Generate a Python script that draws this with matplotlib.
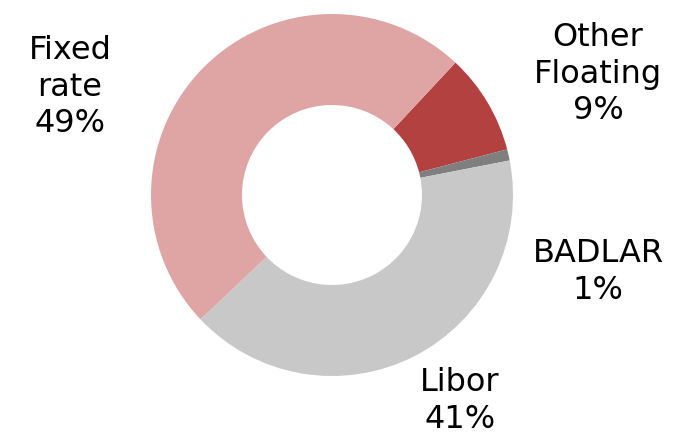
import matplotlib.pyplot as plt

# data
labels = ['Other\nFloating', 'BADLAR', 'Libor', 'Fixed\nrate']
shares = [9, 1, 41, 49]
colors = ['#B3413F', '#7F7F7F', '#C8C8C8', '#DFA5A4']

# label anchor points in pixels (x, y from top)
label_pos = [(598, 74), (598, 272), (460, 401), (70, 87)]

W, H = 684, 436
fig = plt.figure(figsize=(W / 100, H / 100), dpi=100)
ax = fig.add_axes([0, 0, 1, 1])

ax.pie(shares, colors=colors, startangle=47, counterclock=False,
       center=(332, H - 195), radius=181,
       wedgeprops=dict(width=91, edgecolor='none'))

# pie() resets the limits, so set them afterwards
ax.set_xlim(0, W)
ax.set_ylim(0, H)
ax.set_aspect('equal')
ax.axis('off')

for lab, val, (x, y) in zip(labels, shares, label_pos):
    ax.text(x, H - y, f'{lab}\n{val}%', ha='center', va='center',
            fontsize=23, linespacing=1.22, family='DejaVu Sans')

fig.savefig('out.png', dpi=100)
